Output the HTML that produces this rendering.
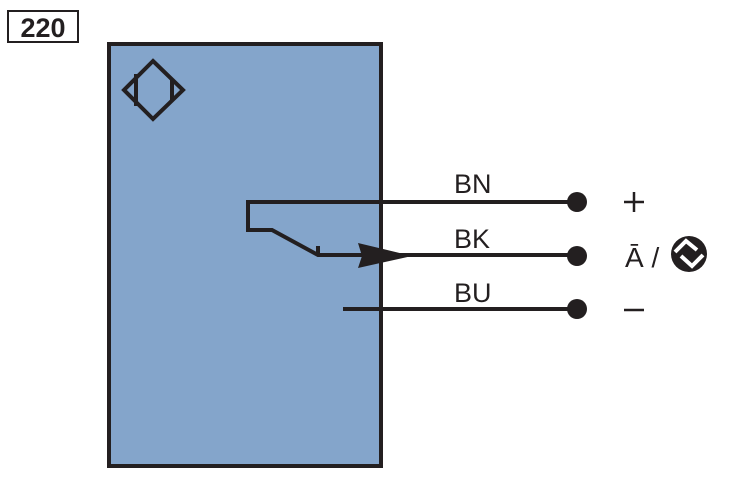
<!DOCTYPE html>
<html><head><style>html,body{margin:0;padding:0;background:#fff}svg{display:block}</style></head>
<body>
<svg width="750" height="500" viewBox="0 0 750 500" xmlns="http://www.w3.org/2000/svg" font-family="Liberation Sans, sans-serif">
<rect x="8" y="11" width="70" height="31" fill="#fff" stroke="#231f20" stroke-width="2"/>
<text x="43" y="37" font-size="27" font-weight="bold" text-anchor="middle" fill="#231f20">220</text>
<rect x="109" y="44" width="272" height="422" fill="#84a5cb" stroke="#231f20" stroke-width="4"/>
<g stroke="#231f20" stroke-width="4" fill="none" stroke-linejoin="miter">
<polygon points="153,61 183,90 153,119 124,90"/>
<line x1="136" y1="74" x2="136" y2="106"/>
<line x1="172" y1="79" x2="172" y2="101"/>
</g>
<g stroke="#231f20" stroke-width="4" fill="none">
<polyline points="577,202 248,202 248,230 272,230 318,255 577,255"/>
<line x1="318" y1="246" x2="318" y2="256"/>
<line x1="343" y1="309" x2="577" y2="309"/>
</g>
<polygon points="358,243 412,256 358,268 362,256" fill="#231f20"/>
<circle cx="577" cy="202" r="10" fill="#231f20"/>
<circle cx="577" cy="256" r="10" fill="#231f20"/>
<circle cx="577" cy="309" r="10" fill="#231f20"/>
<g font-size="27" fill="#231f20">
<text x="454" y="193">BN</text>
<text x="454" y="248">BK</text>
<text x="454" y="302">BU</text>
</g>
<g stroke="#231f20" stroke-width="2.5">
<line x1="624" y1="202" x2="644" y2="202"/><line x1="634" y1="192" x2="634" y2="212"/>
<line x1="624" y1="310" x2="644" y2="310"/>
</g>
<text x="625" y="267" font-size="28" fill="#231f20">Ā /</text>
<circle cx="689" cy="254" r="18" fill="#231f20"/>
<polyline points="675,252 686,241 697,250" stroke="#fff" stroke-width="4" fill="none"/>
<polyline points="681,256 692,266 703,255" stroke="#fff" stroke-width="4" fill="none"/>
</svg>
</body></html>
